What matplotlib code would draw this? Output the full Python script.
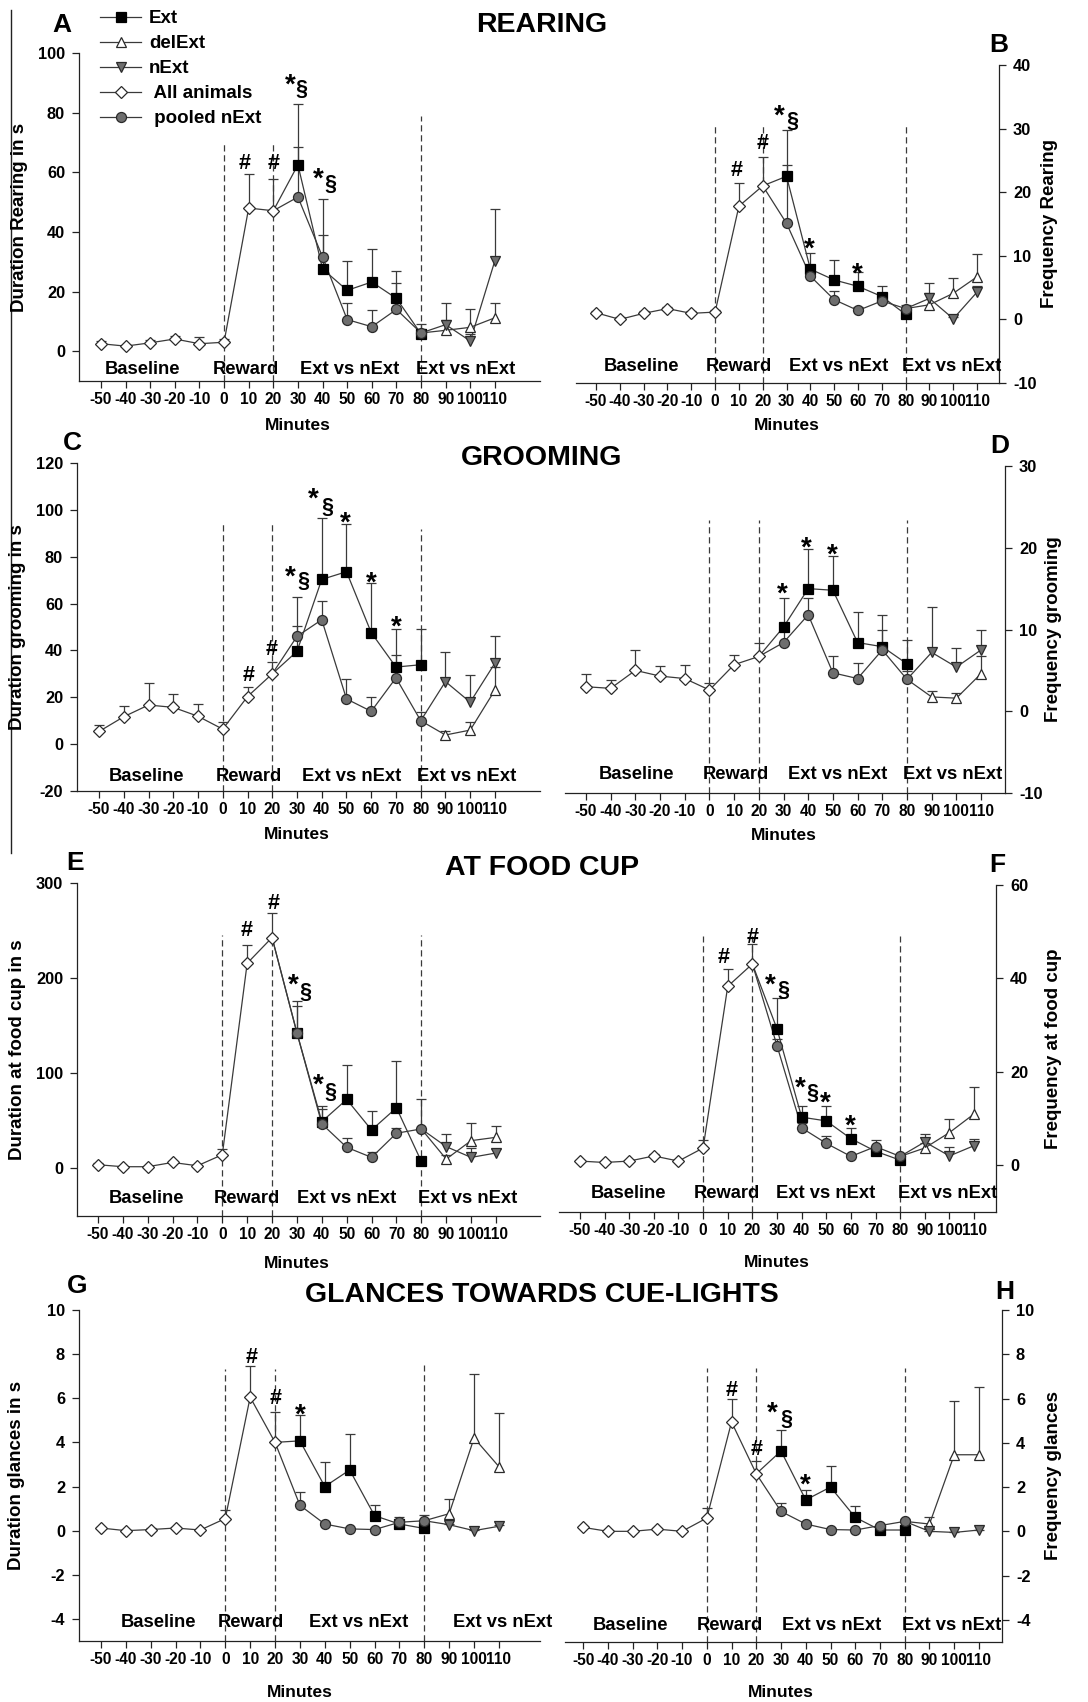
import numpy as np
import matplotlib
matplotlib.use("Agg")
import matplotlib.pyplot as plt
from matplotlib.lines import Line2D
from matplotlib.transforms import blended_transform_factory

plt.rcParams['font.family'] = ['Liberation Sans', 'DejaVu Sans']
plt.rcParams['font.weight'] = 'bold'
plt.rcParams['axes.unicode_minus'] = False

# ---------------- data ----------------
minutes_all = [-50, -40, -30, -20, -10, 0, 10, 20]
minutes_ext = [30, 40, 50, 60, 70, 80]
minutes_late = [90, 100, 110]
tick_minutes = [-50, -40, -30, -20, -10, 0, 10, 20, 30, 40, 50, 60, 70, 80, 90, 100, 110]
tick_labels = ['-50', '-40', '-30', '-20', '-10', '0', '10', '20', '30', '40', '50',
               '60', '70', '80', '90', '100', '110']
phase_bounds = [0, 20, 80]
phase_labels = ['Baseline', 'Reward', 'Ext vs nExt', 'Ext vs nExt']
series_names = ['Ext', 'delExt', 'nExt', ' All animals', ' pooled nExt']
section_titles = ['REARING', 'GROOMING', 'AT FOOD CUP', 'GLANCES TOWARDS CUE-LIGHTS']

# A: duration rearing
A_all = [2.5, 1.7, 2.8, 4.1, 2.5, 3.0, 48.0, 47.1]
A_all_se = [0.8, 0.5, 0.8, 1.0, 2.3, 1.0, 11.4, 10.8]
A_ext = [62.5, 27.6, 20.4, 23.2, 17.7, 5.8]
A_ext_se = [20.5, 11.4, 10.0, 11.1, 9.1, 3.4]
A_pool = [51.7, 31.6, 10.6, 8.2, 14.0, 6.1]
A_pool_se = [16.7, 19.5, 5.4, 5.5, 8.7, 1.2]
A_del = [7.0, 8.0, 11.2]
A_del_se = [9.2, 6.0, 5.0]
A_next = [8.9, 3.4, 30.4]
A_next_se = [1.5, 2.4, 17.3]
# B: frequency rearing
B_all = [1.05, 0.0, 0.95, 1.7, 0.95, 1.15, 17.8, 21.0]
B_all_se = [0.3, 0.3, 0.3, 0.3, 0.3, 0.4, 3.7, 4.6]
B_ext = [22.5, 7.9, 6.2, 5.2, 3.6, 0.8]
B_ext_se = [7.3, 2.5, 3.1, 2.2, 1.6, 0.5]
B_pool = [15.1, 6.8, 3.1, 1.4, 2.9, 1.7]
B_pool_se = [9.2, 1.0, 1.3, 0.6, 1.0, 0.6]
B_del = [2.3, 4.1, 6.7]
B_del_se = [3.5, 2.4, 3.6]
B_next = [3.3, 0.1, 4.3]
B_next_se = [0.8, 0.3, 1.0]
# C: duration grooming
C_all = [5.4, 11.7, 16.7, 15.7, 11.9, 6.4, 20.3, 30.0]
C_all_se = [2.9, 4.4, 9.4, 5.7, 5.4, 2.9, 4.3, 5.0]
C_ext = [39.6, 70.3, 73.6, 47.6, 32.9, 33.9]
C_ext_se = [10.8, 26.4, 20.3, 21.3, 16.1, 15.1]
C_pool = [46.0, 53.1, 19.3, 14.0, 28.3, 10.0]
C_pool_se = [16.6, 8.0, 8.6, 6.3, 9.6, 3.6]
C_del = [3.9, 6.0, 23.1]
C_del_se = [1.8, 3.6, 9.9]
C_next = [26.7, 17.9, 34.6]
C_next_se = [12.6, 11.8, 11.5]
# D: frequency grooming
D_all = [3.0, 2.8, 5.0, 4.3, 4.0, 2.6, 5.7, 6.7]
D_all_se = [1.6, 1.0, 2.5, 1.2, 1.7, 0.9, 1.2, 1.6]
D_ext = [10.3, 15.0, 14.8, 8.4, 7.9, 5.8]
D_ext_se = [3.6, 4.8, 4.2, 3.8, 3.9, 2.9]
D_pool = [8.4, 11.8, 4.7, 4.0, 7.5, 3.9]
D_pool_se = [1.5, 2.0, 2.1, 1.9, 2.5, 1.0]
D_del = [1.75, 1.6, 4.6]
D_del_se = [0.75, 0.6, 2.2]
D_next = [7.2, 5.4, 7.5]
D_next_se = [5.6, 2.3, 2.5]
# E: duration at food cup
E_all = [3.9, 1.8, 1.8, 6.3, 2.8, 14.4, 215.6, 242.7]
E_all_se = [1.5, 1.0, 1.0, 1.5, 1.2, 6.0, 19.4, 25.7]
E_ext = [142.5, 49.2, 72.5, 40.4, 63.7, 7.4]
E_ext_se = [33.5, 16.8, 36.5, 19.6, 48.9, 2.0]
E_pool = [142.5, 46.8, 22.2, 11.6, 37.0, 41.5]
E_pool_se = [28.5, 16.0, 9.5, 5.4, 6.0, 31.5]
E_del = [9.8, 29.2, 32.7]
E_del_se = [4.0, 18.6, 12.3]
E_next = [22.9, 11.6, 16.2]
E_next_se = [13.3, 9.9, 4.2]
# F: frequency at food cup
F_all = [0.9, 0.6, 0.9, 2.0, 0.9, 3.7, 38.3, 43.1]
F_all_se = [0.3, 0.3, 0.3, 0.4, 0.3, 1.7, 3.7, 4.2]
F_ext = [29.2, 10.3, 9.5, 5.7, 3.0, 1.1]
F_ext_se = [6.6, 2.4, 3.2, 2.3, 0.5, 0.4]
F_pool = [25.6, 8.0, 4.7, 1.9, 4.0, 1.9]
F_pool_se = [1.5, 1.0, 1.6, 0.5, 1.4, 0.5]
F_del = [3.7, 7.0, 11.0]
F_del_se = [1.0, 2.9, 5.7]
F_next = [5.0, 2.0, 4.2]
F_next_se = [1.6, 2.0, 1.5]
# G: duration glances
G_all = [0.12, 0.0, 0.05, 0.12, 0.03, 0.55, 6.05, 4.0]
G_all_se = [0.05, 0.05, 0.05, 0.05, 0.05, 0.4, 1.4, 1.4]
G_ext = [4.07, 2.0, 2.75, 0.68, 0.3, 0.1]
G_ext_se = [1.18, 1.1, 1.65, 0.47, 0.3, 0.15]
G_pool = [1.15, 0.3, 0.08, 0.05, 0.38, 0.45]
G_pool_se = [0.6, 0.1, 0.05, 0.05, 0.1, 0.25]
G_del = [0.77, 4.2, 2.9]
G_del_se = [0.68, 2.88, 2.43]
G_next = [0.27, 0.0, 0.2]
G_next_se = [0.05, 0.05, 0.05]
# H: frequency glances
H_all = [0.18, 0.0, 0.0, 0.1, 0.0, 0.6, 4.94, 2.6]
H_all_se = [0.05, 0.05, 0.05, 0.05, 0.05, 0.46, 1.03, 0.6]
H_ext = [3.63, 1.42, 2.0, 0.63, 0.06, 0.06]
H_ext_se = [0.97, 0.45, 0.95, 0.5, 0.05, 0.05]
H_pool = [0.9, 0.33, 0.08, 0.06, 0.26, 0.45]
H_pool_se = [0.37, 0.1, 0.05, 0.05, 0.05, 0.1]
H_del = [0.33, 3.46, 3.46]
H_del_se = [0.3, 2.42, 3.07]
H_next = [0.0, -0.05, 0.06]
H_next_se = [0.02, 0.02, 0.02]

# significance marks (symbol, minute, value)
A_sig = [('#', 8.5, 63.7), ('#', 20.3, 63.7), ('*', 26.8, 92), ('§', 31.5, 87.7), ('*', 38.3, 60.3), ('§', 43, 55.9)]
B_sig = [('#', 8.9, 23.7), ('#', 19.9, 27.9), ('*', 26.9, 33.2), ('§', 32.5, 31.1), ('*', 39.7, 12.4), ('*', 59.8, 8.4)]
C_sig = [('#', 10.3, 30), ('#', 19.8, 41.4), ('*', 27.2, 74.6), ('§', 32.5, 69.3), ('*', 36.6, 107.9),
         ('§', 42.3, 101), ('*', 49.4, 97.9), ('*', 60.2, 72.1), ('*', 70.3, 53.6)]
D_sig = [('*', 29.5, 15.3), ('*', 39.4, 20.9), ('*', 49.8, 20.1)]
E_sig = [('#', 9.8, 252.5), ('#', 20.5, 280.7), ('*', 28.5, 201.5), ('§', 33.6, 184.7), ('*', 38.6, 96), ('§', 43.3, 80.2)]
F_sig = [('#', 8.5, 44.9), ('#', 20, 49.2), ('*', 27.2, 40.2), ('§', 32.6, 37.4), ('*', 39.3, 18.3),
         ('§', 44.3, 15.4), ('*', 49.5, 15.1), ('*', 59.9, 10.1)]
G_sig = [('#', 10.6, 7.95), ('#', 20.4, 6.08), ('*', 30, 5.6)]
H_sig = [('#', 9.9, 6.45), ('#', 20.2, 3.78), ('*', 26.5, 5.7), ('§', 32.3, 5.05), ('*', 39.7, 2.45)]

# ---------------- layout ----------------
W, H = 1088, 1702
fig = plt.figure(figsize=(W / 100, H / 100), dpi=100)

def fx(px):
    return px / W

def fy(py):
    return 1 - py / H

panels = [
    dict(letter='A', d=(A_all, A_all_se, A_ext, A_ext_se, A_pool, A_pool_se, A_del, A_del_se, A_next, A_next_se),
         sig=A_sig, box=(79, 540, 53, 381), xlim=(-58.9, 128.3), ylim=(-10, 100), yticks=np.arange(0, 101, 20),
         side='left', ylabel='Duration Rearing in s', ylx=20, lpos=(62, 32), tops=[70, 70, 79],
         phx=[-33, 9, 51, 98.3], phdy=7, minb=430),
    dict(letter='B', d=(B_all, B_all_se, B_ext, B_ext_se, B_pool, B_pool_se, B_del, B_del_se, B_next, B_next_se),
         sig=B_sig, box=(576, 999, 65, 383), xlim=(-58.4, 119.2), ylim=(-10, 40), yticks=np.arange(-10, 41, 10),
         side='right', ylabel='Frequency Rearing', ylx=1049, lpos=(999, 52), tops=[30.6, 30.6, 30.6],
         phx=[-31, 10, 52, 99.5], phdy=12, minb=430),
    dict(letter='C', d=(C_all, C_all_se, C_ext, C_ext_se, C_pool, C_pool_se, C_del, C_del_se, C_next, C_next_se),
         sig=C_sig, box=(77, 540, 463, 791), xlim=(-58.9, 128.2), ylim=(-20, 120), yticks=np.arange(-20, 121, 20),
         side='left', ylabel='Duration grooming in s', ylx=18, lpos=(72, 450), tops=[95, 95, 92],
         phx=[-31, 10.6, 52, 98.7], phdy=10, minb=839),
    dict(letter='D', d=(D_all, D_all_se, D_ext, D_ext_se, D_pool, D_pool_se, D_del, D_del_se, D_next, D_next_se),
         sig=D_sig, box=(565, 1005, 466, 793), xlim=(-58.5, 119.7), ylim=(-10, 30), yticks=np.arange(-10, 31, 10),
         side='right', ylabel='Frequency grooming', ylx=1054, lpos=(1000, 453), tops=[23.4, 23.4, 23.4],
         phx=[-29.7, 10.8, 52, 98.6], phdy=14, minb=840),
    dict(letter='E', d=(E_all, E_all_se, E_ext, E_ext_se, E_pool, E_pool_se, E_del, E_del_se, E_next, E_next_se),
         sig=E_sig, box=(77, 540, 883, 1216), xlim=(-58.4, 127.7), ylim=(-50, 300), yticks=[0, 100, 200, 300],
         side='left', ylabel='Duration at food cup in s', ylx=18, lpos=(75, 870), tops=[245, 245, 245],
         phx=[-30.3, 9.7, 50.1, 98.5], phdy=13, minb=1268),
    dict(letter='F', d=(F_all, F_all_se, F_ext, F_ext_se, F_pool, F_pool_se, F_del, F_del_se, F_next, F_next_se),
         sig=F_sig, box=(559, 996, 885, 1212), xlim=(-58.5, 118.9), ylim=(-10, 60), yticks=[0, 20, 40, 60],
         side='right', ylabel='Frequency at food cup', ylx=1054, lpos=(997, 872), tops=[49, 49, 49],
         phx=[-30.1, 9.7, 49.9, 99.4], phdy=14, minb=1267),
    dict(letter='G', d=(G_all, G_all_se, G_ext, G_ext_se, G_pool, G_pool_se, G_del, G_del_se, G_next, G_next_se),
         sig=G_sig, box=(79, 540, 1310, 1641), xlim=(-58.8, 126.5), ylim=(-5, 10), yticks=np.arange(-4, 11, 2),
         side='left', ylabel='Duration glances in s', ylx=17, lpos=(77, 1293), tops=[7.34, 7.34, 7.5],
         phx=[-27, 10.4, 53.7, 111.6], phdy=14, minb=1697),
    dict(letter='H', d=(H_all, H_all_se, H_ext, H_ext_se, H_pool, H_pool_se, H_del, H_del_se, H_next, H_next_se),
         sig=H_sig, box=(565, 1002, 1310, 1642), xlim=(-57.3, 119.3), ylim=(-5, 10), yticks=np.arange(-4, 11, 2),
         side='right', ylabel='Frequency glances', ylx=1054, lpos=(1005, 1299), tops=[7.4, 7.4, 7.4],
         phx=[-31, 9.4, 50.6, 99], phdy=12, minb=1697),
]

LINE = '#3a3a3a'
EDGE = '#2a2a2a'
GRAY = '#6e6e6e'
ms_common = dict(markeredgewidth=0.9, linestyle='none')
styles = {
    'ext': dict(marker='s', ms=6.5, mfc='black', mec='black'),
    'del': dict(marker='^', ms=7.8, mfc='white', mec=EDGE),
    'next': dict(marker='v', ms=7.8, mfc=GRAY, mec=EDGE),
    'all': dict(marker='D', ms=6.2, mfc='white', mec=EDGE),
    'pool': dict(marker='o', ms=7.2, mfc=GRAY, mec=EDGE),
}

def errs(ax, x, y, e):
    y = np.asarray(y, float)
    top = y + np.asarray(e, float)
    ax.vlines(x, y, top, colors=LINE, lw=0.9, zorder=2)
    ax.plot(x, top, marker='_', ms=7, mew=0.9, color=LINE, linestyle='none', zorder=2)

sig_fs = {'#': 15.5, '*': 20, '§': 15.5}
sig_dy = {'#': -1.4, '*': -6.2, '§': 0}

for p in panels:
    l, r, t, b = p['box']
    ax = fig.add_axes([fx(l), fy(b), fx(r - l), (b - t) / H])
    ax.set_xlim(*p['xlim'])
    ax.set_ylim(*p['ylim'])
    all_y, all_se, ext_y, ext_se, pool_y, pool_se, del_y, del_se, nx_y, nx_se = p['d']

    # connecting lines
    kw = dict(color=LINE, lw=0.9, zorder=1.5)
    ax.plot(minutes_all, all_y, **kw)
    ax.plot([minutes_all[-1]] + minutes_ext, [all_y[-1]] + ext_y, **kw)
    ax.plot([minutes_all[-1]] + minutes_ext, [all_y[-1]] + pool_y, **kw)
    ax.plot([minutes_ext[-1]] + minutes_late, [pool_y[-1]] + del_y, **kw)
    ax.plot([minutes_ext[-1]] + minutes_late, [pool_y[-1]] + nx_y, **kw)

    # error bars (upper only)
    errs(ax, minutes_all, all_y, all_se)
    errs(ax, minutes_ext, ext_y, ext_se)
    errs(ax, minutes_ext, pool_y, pool_se)
    errs(ax, minutes_late, del_y, del_se)
    errs(ax, minutes_late, nx_y, nx_se)

    # markers
    ax.plot(minutes_all, all_y, zorder=4, **styles['all'], **ms_common)
    ax.plot(minutes_ext, ext_y, zorder=4, **styles['ext'], **ms_common)
    ax.plot(minutes_ext, pool_y, zorder=5, **styles['pool'], **ms_common)
    ax.plot(minutes_late, del_y, zorder=4, **styles['del'], **ms_common)
    ax.plot(minutes_late, nx_y, zorder=5, **styles['next'], **ms_common)

    # phase boundaries
    ax.vlines(phase_bounds, p['ylim'][0], p['tops'], colors=LINE, lw=0.9,
              linestyles=(0, (5, 3)), zorder=1)

    # phase labels
    hpx = b - t
    for lab, xx in zip(phase_labels, p['phx']):
        ax.text(xx, p['phdy'] / hpx, lab, transform=blended_transform_factory(ax.transData, ax.transAxes),
                ha='center', va='baseline', fontsize=13.2, fontweight='bold', zorder=6)

    # significance
    for sym, xx, yy in p['sig']:
        ax.annotate(sym, (xx, yy), xytext=(0, sig_dy[sym]), textcoords='offset points',
                    ha='center', va='center', fontsize=sig_fs[sym], fontweight='bold', zorder=7)

    # axes styling
    for s in ['top', 'left', 'right', 'bottom']:
        ax.spines[s].set_visible(False)
    ax.spines['bottom'].set_visible(True)
    ax.spines[p['side']].set_visible(True)
    for s in ['bottom', p['side']]:
        ax.spines[s].set_linewidth(0.9)
        ax.spines[s].set_color('#222222')
    ax.set_xticks(tick_minutes)
    ax.set_xticklabels(tick_labels)
    ax.set_yticks(p['yticks'])
    ax.set_yticklabels([str(int(v)) for v in p['yticks']])
    ax.tick_params(axis='x', direction='out', length=5, width=0.9, pad=3, labelsize=11.2, colors='#222222',
                   labelcolor='black')
    if p['side'] == 'right':
        ax.yaxis.tick_right()
        ax.yaxis.set_label_position('right')
    ax.tick_params(axis='y', direction='out', length=5, width=0.9, pad=5, labelsize=11.8, colors='#222222',
                   labelcolor='black')
    for lab in ax.get_xticklabels() + ax.get_yticklabels():
        lab.set_fontweight('bold')

    # axis labels
    fig.text(fx(p['ylx']), fy((t + b) / 2), p['ylabel'], rotation=90, ha='center', va='center',
             fontsize=13.5, fontweight='bold')
    ax.text(30, fy(p['minb']), 'Minutes', transform=blended_transform_factory(ax.transData, fig.transFigure),
            ha='center', va='baseline', fontsize=12.5, fontweight='bold')
    # panel letter
    fig.text(fx(p['lpos'][0]), fy(p['lpos'][1]), p['letter'], ha='center', va='baseline',
             fontsize=19, fontweight='bold')

    if p['letter'] == 'A':
        handles = [
            Line2D([], [], color=LINE, lw=0.9, markeredgewidth=0.9, **styles['ext']),
            Line2D([], [], color=LINE, lw=0.9, markeredgewidth=0.9, **styles['del']),
            Line2D([], [], color=LINE, lw=0.9, markeredgewidth=0.9, **styles['next']),
            Line2D([], [], color=LINE, lw=0.9, markeredgewidth=0.9, **styles['all']),
            Line2D([], [], color=LINE, lw=0.9, markeredgewidth=0.9, **styles['pool']),
        ]
        fig.legend(handles, series_names, loc='upper left', bbox_to_anchor=(fx(100), fy(10)),
                   frameon=False, prop=dict(weight='bold', size=13.5), handlelength=2.2,
                   handletextpad=0.4, labelspacing=0.42, borderaxespad=0, borderpad=0)

# section titles
for title, yb in zip(section_titles, [32, 465, 875, 1302]):
    fig.text(fx(542), fy(yb), title, ha='center', va='baseline', fontsize=20.5, fontweight='bold')

# left border line
fig.add_artist(Line2D([fx(11), fx(11)], [fy(10), fy(853)], color='#222222', lw=1.0))

fig.savefig('out.png', dpi=100, facecolor='white')
